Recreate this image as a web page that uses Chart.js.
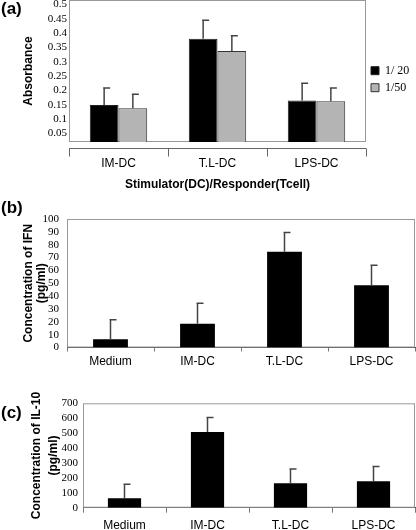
<!DOCTYPE html>
<html>
<head>
<meta charset="utf-8">
<script src="https://cdn.jsdelivr.net/npm/chart.js@4.4.0/dist/chart.umd.min.js"></script>
<style>
body{margin:0;background:#fff;width:416px;height:530px;position:relative;overflow:hidden}
.panel{position:absolute;left:0;width:416px}
.tag{position:absolute;left:1px;font:bold 17px "Liberation Sans",Arial,sans-serif;color:#000}
</style>
</head>
<body>
<div class="panel" style="top:0;height:194px"><canvas id="chartA"></canvas></div>
<div class="panel" style="top:192px;height:180px"><canvas id="chartB"></canvas></div>
<div class="panel" style="top:372px;height:158px"><canvas id="chartC"></canvas></div>
<div class="tag" style="top:-1px">(a)</div>
<div class="tag" style="top:198px">(b)</div>
<div class="tag" style="top:403px">(c)</div>
<script>
// (a) proliferation
const aLabels = ['IM-DC', 'T.L-DC', 'LPS-DC'];
const a20 = [0.149, 0.381, 0.165];
const a20Err = [0.060, 0.064, 0.060];
const a50 = [0.138, 0.338, 0.162];
const a50Err = [0.049, 0.053, 0.047];
const aTicks = [0.05, 0.1, 0.15, 0.2, 0.25, 0.3, 0.35, 0.4, 0.45, 0.5];

// (b) IFN and (c) IL-10
const cytoLabels = ['Medium', 'IM-DC', 'T.L-DC', 'LPS-DC'];
const ifn = [6.5, 18.4, 74.5, 48.4];
const ifnErr = [15, 16, 15, 15.6];
const il10 = [63, 508, 164, 177];
const il10Err = [94, 96, 96, 100];

const serif = '"Liberation Serif", "Times New Roman", serif';
const sans = '"Liberation Sans", Arial, sans-serif';

// upper error whiskers, cap sticking out to the right like the excel ones
const errorBars = {
  id: 'errorBars',
  afterDatasetsDraw(chart) {
    const ctx = chart.ctx, y = chart.scales.y;
    chart.data.datasets.forEach((ds, i) => {
      chart.getDatasetMeta(i).data.forEach((bar, j) => {
        const top = y.getPixelForValue(ds.data[j] + ds.err[j]);
        ctx.save();
        ctx.strokeStyle = '#444';
        ctx.lineWidth = 1.5;
        ctx.beginPath();
        ctx.moveTo(bar.x, bar.y);
        ctx.lineTo(bar.x, top);
        ctx.moveTo(bar.x - 1, top);
        ctx.lineTo(bar.x + 6, top);
        ctx.stroke();
        ctx.restore();
      });
    });
  }
};

const plotBox = {
  id: 'plotBox',
  beforeDatasetsDraw(chart) {
    const a = chart.chartArea, ctx = chart.ctx;
    ctx.save();
    ctx.strokeStyle = '#999';
    ctx.lineWidth = 1;
    ctx.strokeRect(a.left + 0.5, a.top + 0.5, a.width - 1, a.height - 1);
    ctx.restore();
  }
};

// panel (a) has its category axis sitting a few px under the plot box
const detachedAxis = {
  id: 'detachedAxis',
  afterDraw(chart) {
    const a = chart.chartArea, ctx = chart.ctx, x = chart.scales.x;
    const y0 = Math.round(a.bottom) + 6.5;
    const n = chart.data.labels.length;
    ctx.save();
    ctx.strokeStyle = '#666';
    ctx.lineWidth = 1;
    ctx.beginPath();
    ctx.moveTo(a.left, y0);
    ctx.lineTo(a.right, y0);
    for (let i = 0; i <= n; i++) {
      const px = Math.round(x.left + i * x.width / n) + 0.5;
      ctx.moveTo(px, y0);
      ctx.lineTo(px, y0 + 8);
    }
    ctx.stroke();
    ctx.restore();
  }
};

function fixX(h) {
  return s => { s.height = h; s.paddingLeft = 0; s.paddingRight = 0; };
}
function fixY(w) {
  return s => { s.width = w; s.paddingTop = 0; s.paddingBottom = 0; };
}

new Chart(document.getElementById('chartA'), {
  type: 'bar',
  data: {
    labels: aLabels,
    datasets: [
      { label: '1/ 20', data: a20, err: a20Err, backgroundColor: '#000', borderColor: '#222', borderWidth: 1,
        barPercentage: 1, categoryPercentage: 0.58 },
      { label: '1/50', data: a50, err: a50Err, backgroundColor: '#b4b4b4', borderColor: '#333', borderWidth: 1,
        barPercentage: 1, categoryPercentage: 0.58 }
    ]
  },
  options: {
    responsive: true, maintainAspectRatio: false, animation: false,
    layout: { padding: { top: 0, left: 0, right: 0, bottom: 0 } },
    plugins: {
      legend: {
        position: 'right', fullSize: false, maxWidth: 50,
        title: { display: true, text: ' ', font: { size: 12 }, padding: 1 },
        labels: { color: '#000', boxWidth: 8, boxHeight: 8, padding: 5, font: { family: serif, size: 12 } }
      },
      tooltip: { enabled: false }
    },
    scales: {
      x: {
        afterFit: fixX(52),
        grid: { display: false, drawTicks: false, tickLength: 0 },
        border: { display: false },
        ticks: { color: '#000', padding: 14, font: { family: sans, size: 12 } },
        title: { display: true, text: 'Stimulator(DC)/Responder(Tcell)', color: '#000',
          font: { family: sans, size: 12, weight: 'bold' }, padding: { top: 0, bottom: 2 } }
      },
      y: {
        min: 0.02, max: 0.516,
        afterFit: fixY(69),
        afterBuildTicks: s => { s.ticks = aTicks.map(v => ({ value: v })); },
        grid: { display: false, drawTicks: false, tickLength: 0 },
        border: { display: false },
        ticks: { autoSkip: false, color: '#000', padding: 2, font: { family: serif, size: 11 }, callback: v => String(v) },
        title: { display: true, text: 'Absorbance', color: '#000',
          font: { family: sans, size: 12, weight: 'bold' }, padding: { top: 21, bottom: 0 } }
      }
    }
  },
  plugins: [plotBox, errorBars, detachedAxis]
});

function cytoChart(id, values, errs, opt) {
  return new Chart(document.getElementById(id), {
    type: 'bar',
    data: {
      labels: cytoLabels,
      datasets: [{ data: values, err: errs, backgroundColor: '#000', borderColor: '#000',
        barPercentage: 0.4, categoryPercentage: 1 }]
    },
    options: {
      responsive: true, maintainAspectRatio: false, animation: false,
      layout: { padding: { top: opt.top, left: 0, right: 1, bottom: 0 } },
      plugins: { legend: { display: false }, tooltip: { enabled: false } },
      scales: {
        x: {
          afterFit: fixX(opt.xh),
          grid: { drawOnChartArea: false, tickLength: opt.tickLen, color: '#777' },
          border: { color: '#444' },
          ticks: { color: '#000', padding: opt.xpad, font: { family: sans, size: 12 } }
        },
        y: {
          min: 0, max: opt.max,
          afterFit: fixY(opt.yw),
          grid: { display: false, drawTicks: false, tickLength: 0 },
          border: { display: false },
          ticks: { autoSkip: false, stepSize: opt.step, color: '#000', padding: opt.ypad, font: { family: serif, size: 11 } },
          title: { display: true, text: opt.title, color: '#000',
            font: { family: sans, size: 12, weight: 'bold', lineHeight: opt.lh }, padding: { top: opt.tpad, bottom: 0 } }
        }
      }
    },
    plugins: [plotBox, errorBars]
  });
}

cytoChart('chartB', ifn, ifnErr, {
  top: 27, xh: 24.5, tickLen: 4, xpad: 3, max: 100, step: 10, yw: 67, ypad: 8,
  title: ['Concentration of IFN', '(pg/ml)'], lh: 1.1, tpad: 22
});

cytoChart('chartC', il10, il10Err, {
  top: 31.3, xh: 22.3, tickLen: 5, xpad: 6, max: 700, step: 100, yw: 83, ypad: 5,
  title: ['Concentration of IL-10', '(pg/ml)'], lh: 1.4, tpad: 28
});
</script>
</body>
</html>
